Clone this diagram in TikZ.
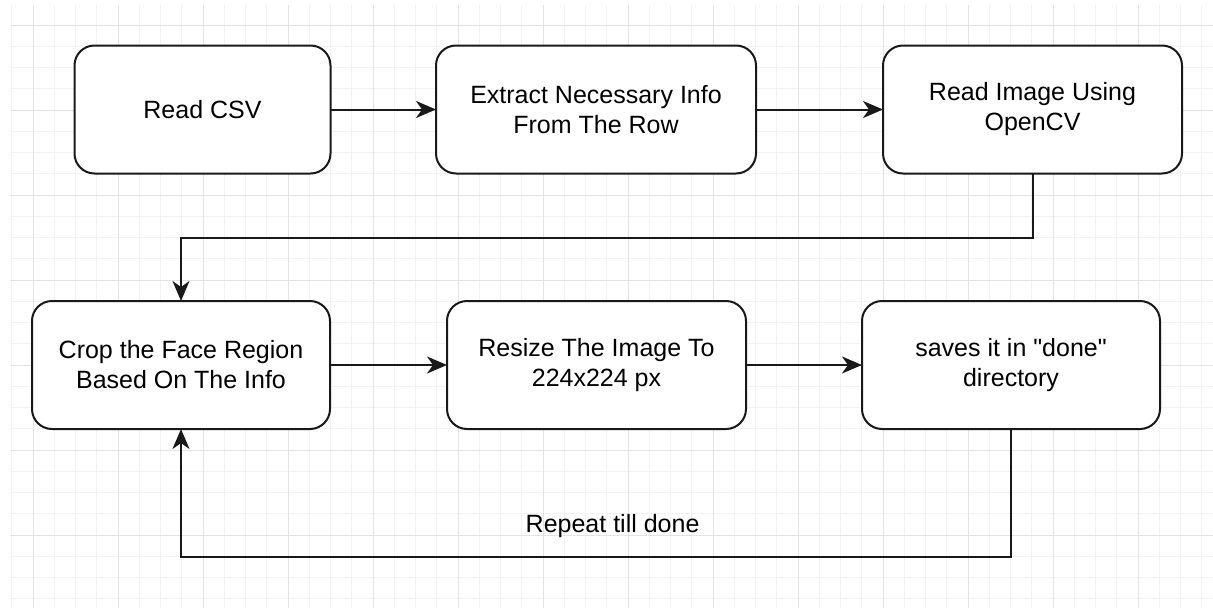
\documentclass[tikz,border=0pt]{standalone}
\usepackage{fontspec}
\setmainfont{Liberation Sans}[Ligatures=TeXOff]
\usetikzlibrary{arrows.meta}
\tikzset{every node/.style={font=\fontsize{25}{30}\selectfont},
  stepbox/.style={draw=black!90, line width=2pt, rounded corners=20pt,
    fill=white, align=center, inner sep=0pt, outer sep=0pt,
    minimum height=128pt},
  flow/.style={draw=black!90, line width=2pt,
    -{Stealth[length=20pt,width=17pt,inset=6pt]}}}
\begin{document}
\begin{tikzpicture}[x=1pt,y=-1pt]
  \useasboundingbox (0,0) rectangle (1213,608);
  % background grid
  \begin{scope}
    \clip (10,5) rectangle (1213,608);
    \foreach\k in {-1,...,55} \draw[black!5,line width=1pt] (33+21.25*\k,0) -- ++(0,608);
    \foreach\k in {-1,...,27} \draw[black!5,line width=1pt] (0,25+21.25*\k) -- ++(1213,0);
    \foreach\k in {0,...,13} \draw[black!11,line width=1pt] (33+85*\k,0) -- ++(0,608);
    \foreach\k in {0,...,6} \draw[black!11,line width=1pt] (0,25+85*\k) -- ++(1213,0);
  \end{scope}
  % steps
  \node[stepbox,minimum width=256pt] (csv) at (202.5,109.5) {Read CSV};
  \node[stepbox,minimum width=320pt] (info) at (596,109.5) {Extract Necessary Info\\From The Row};
  \node[stepbox,minimum width=299pt] (img) at (1032.5,109.5) {Read Image Using\\OpenCV};
  \node[stepbox,minimum width=298pt] (crop) at (181,365) {Crop the Face Region\\Based On The Info};
  \node[stepbox,minimum width=299pt] (resize) at (596.5,365) {Resize The Image To\\224x224 px};
  \node[stepbox,minimum width=298pt] (save) at (1011,365) {saves it in "done"\\directory};
  % connectors
  \draw[flow] (csv) -- (info);
  \draw[flow] (info) -- (img);
  \draw[flow] (img.south) -- ++(0,64) -| (crop.north);
  \draw[flow] (crop) -- (resize);
  \draw[flow] (resize) -- (save);
  \draw[flow] (save.south) -- ++(0,128) -| node[pos=0.24,above=15pt] (again) {Repeat till done} (crop.south);
\end{tikzpicture}
\end{document}
